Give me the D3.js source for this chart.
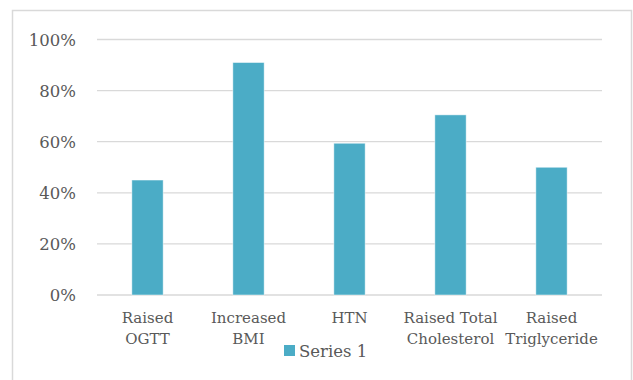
<!DOCTYPE html>
<html>
<head>
<meta charset="utf-8">
<script src="https://cdn.jsdelivr.net/npm/d3@7"></script>
<style>
  html, body { margin: 0; padding: 0; background: #fff; }
  svg { display: block; }
</style>
</head>
<body>
<svg id="chart" width="633" height="380"></svg>
<script>
// Categories (each label split into lines) and the share for each
const categories = ["Raised OGTT", "Increased BMI", "HTN", "Raised Total Cholesterol", "Raised Triglyceride"];
const categoryLines = [["Raised", "OGTT"], ["Increased", "BMI"], ["HTN"], ["Raised Total", "Cholesterol"], ["Raised", "Triglyceride"]];
const values = [0.45, 0.91, 0.594, 0.705, 0.50];
const tickValues = [0, 0.2, 0.4, 0.6, 0.8, 1.0];
const seriesName = "Series 1";

const svg = d3.select("#chart");
const font = "DejaVu Serif";
const textColor = "#595959";
const gridColor = "#d9d9d9";
const barColor = "#4BACC6";

// Chart frame
svg.append("rect")
  .attr("x", 12.5).attr("y", 10.5)
  .attr("width", 619).attr("height", 400)
  .attr("fill", "#fff")
  .attr("stroke", gridColor).attr("stroke-width", 1.5);

const plot = { left: 97, right: 602, top: 39.5, bottom: 295 };

const x = d3.scaleBand()
  .domain(categories)
  .range([plot.left, plot.right])
  .paddingInner(0.69)
  .paddingOuter(0.345);

const y = d3.scaleLinear()
  .domain([0, 1])
  .range([plot.bottom, plot.top]);

// Horizontal gridlines
svg.append("g")
  .selectAll("line")
  .data(tickValues)
  .join("line")
  .attr("x1", plot.left).attr("x2", plot.right)
  .attr("y1", d => y(d)).attr("y2", d => y(d))
  .attr("stroke", gridColor).attr("stroke-width", 1.3);

// Value axis labels
const yAxis = d3.axisLeft(y)
  .tickValues(tickValues)
  .tickFormat(d3.format(".0%"))
  .tickSize(0)
  .tickPadding(0);

const yg = svg.append("g")
  .attr("transform", `translate(${plot.left - 21},0)`)
  .call(yAxis)
  .attr("font-family", font)
  .attr("font-size", 16.5);
yg.select(".domain").remove();
yg.selectAll("text")
  .attr("fill", textColor)
  .attr("dy", "0.36em");

// Bars
svg.append("g")
  .selectAll("rect")
  .data(values)
  .join("rect")
  .attr("x", (d, i) => x(categories[i]))
  .attr("y", d => y(d))
  .attr("width", x.bandwidth())
  .attr("height", d => y(0) - y(d))
  .attr("fill", barColor)
  .attr("stroke", "#ffffff")
  .attr("stroke-opacity", 0.6)
  .attr("stroke-width", 0.8);

// Category labels
const xl = svg.append("g")
  .attr("font-family", font)
  .attr("font-size", 15);
categories.forEach((c, i) => {
  const t = xl.append("text")
    .attr("x", x(c) + x.bandwidth() / 2)
    .attr("y", 323)
    .attr("text-anchor", "middle")
    .attr("fill", textColor);
  categoryLines[i].forEach((line, j) => {
    t.append("tspan")
      .attr("x", x(c) + x.bandwidth() / 2)
      .attr("dy", j === 0 ? 0 : 20.7)
      .text(line);
  });
});

// Legend
const legend = svg.append("g");
legend.append("rect")
  .attr("x", 284).attr("y", 345)
  .attr("width", 11).attr("height", 11)
  .attr("fill", barColor);
legend.append("text")
  .attr("x", 299).attr("y", 357)
  .attr("font-family", font)
  .attr("font-size", 16.5)
  .attr("fill", textColor)
  .text(seriesName);
</script>
</body>
</html>
